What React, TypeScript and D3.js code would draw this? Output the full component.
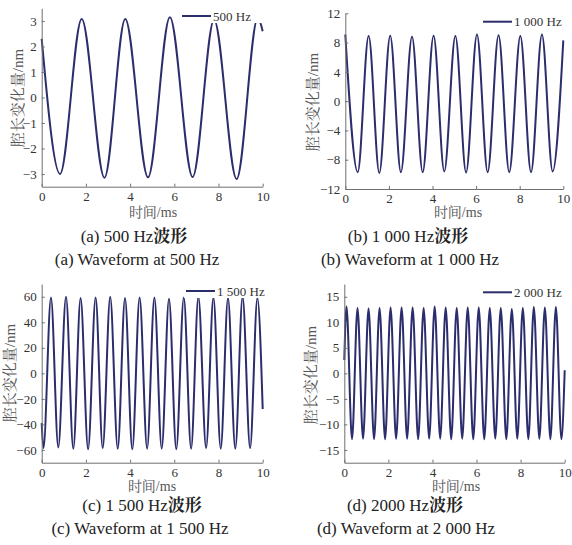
import React from "react";
import * as d3 from "d3";

// shared time axis (ms)
const timeTicks = [0, 2, 4, 6, 8, 10];

const t500 = [0, 0.83, 1.81, 2.84, 3.78, 4.81, 5.8, 6.83, 7.8, 8.82, 9.78, 10];
const v500 = [2.3, -3.0, 3.08, -3.15, 3.08, -3.13, 3.15, -3.12, 3.05, -3.2, 3.13, 2.6];
const yTicks500 = [-3, -2, -1, 0, 1, 2, 3];

const t1000 = [0, 0.57, 1.07, 1.56, 2.06, 2.55, 3.06, 3.55, 4.05, 4.54, 5.05, 5.54, 6.04, 6.53, 7.03, 7.52, 8.03, 8.52, 9.02, 9.51, 10];
const v1000 = [9.1, -9.7, 8.9, -9.8, 8.95, -9.7, 8.8, -9.7, 8.95, -9.6, 8.9, -9.75, 9.1, -9.7, 9.0, -9.7, 8.9, -9.7, 9.1, -9.6, 8.3];
const yTicks1000 = [-12, -8, -4, 0, 4, 8, 12];

const t1500 = [0, 0.08, 0.42, 0.75, 1.1, 1.43, 1.76, 2.1, 2.44, 2.76, 3.1, 3.44, 3.77, 4.1, 4.43, 4.77, 5.1, 5.43, 5.76, 6.09, 6.43, 6.76, 7.09, 7.44, 7.77, 8.1, 8.43, 8.76, 9.09, 9.43, 9.76, 10];
const v1500 = [-39, -58.5, 59.5, -58, 60, -59, 59, -59.5, 59.5, -58.5, 60, -59, 59, -59.5, 59.5, -59, 59.5, -59, 58.5, -59.5, 59.5, -59, 60, -58.5, 59.5, -59, 59, -59, 60, -58.5, 59, -28];
const yTicks1500 = [-60, -40, -20, 0, 20, 40, 60];

const t2000 = [0, 0.1, 0.35, 0.6, 0.85, 1.1, 1.35, 1.6, 1.85, 2.1, 2.35, 2.6, 2.85, 3.1, 3.35, 3.6, 3.85, 4.1, 4.35, 4.6, 4.85, 5.1, 5.35, 5.6, 5.85, 6.1, 6.35, 6.6, 6.85, 7.1, 7.35, 7.6, 7.85, 8.1, 8.35, 8.6, 8.85, 9.1, 9.35, 9.6, 9.85, 10];
const v2000 = [2.6, 13.1, -12.9, 12.8, -12.8, 12.7, -12.9, 12.8, -12.9, 12.9, -12.8, 12.9, -12.8, 12.9, -12.9, 12.8, -12.8, 13.1, -12.8, 12.9, -12.9, 12.8, -12.8, 12.9, -12.9, 12.9, -12.9, 12.8, -12.8, 12.8, -12.9, 12.6, -12.8, 12.8, -12.9, 13.0, -12.8, 12.9, -12.9, 13.0, -12.9, 0.6];
const yTicks2000 = [-15, -10, -5, 0, 5, 10, 15];

const FONT = "'Liberation Serif', 'Noto Serif CJK SC', serif";
const WAVE = "#2c2d6c";
const AXIS = "#6f6f6f";

const panels = [
  { t: t500, v: v500, yDom: [-3.5, 3.5], yTicks: yTicks500, legend: "500 Hz",
    x0: 41.7, x1: 262.7, top: 8.3, bot: 186.7, lx: 182, ly: 16, ylx: 18, yly: 98, xlx: 153, xly: 217,
    cx1: 134, cx2: 137, cy: 242, cn: "(a) 500 Hz", en: "(a) Waveform at 500 Hz" },
  { t: t1000, v: v1000, yDom: [-12, 12], yTicks: yTicks1000, legend: "1 000 Hz",
    x0: 345.3, x1: 563.3, top: 13.3, bot: 189, lx: 483, ly: 21.7, ylx: 313, yly: 102, xlx: 458, xly: 217,
    cx1: 408, cx2: 410, cy: 242, cn: "(b) 1 000 Hz", en: "(b) Waveform at 1 000 Hz" },
  { t: t1500, v: v1500, yDom: [-70, 70], yTicks: yTicks1500, legend: "1 500 Hz",
    x0: 41.7, x1: 262.7, top: 284, bot: 462.7, lx: 186, ly: 291, ylx: 10, yly: 373, xlx: 152, xly: 491,
    cx1: 142, cx2: 140, cy: 511, cn: "(c) 1 500 Hz", en: "(c) Waveform at 1 500 Hz" },
  { t: t2000, v: v2000, yDom: [-17.5, 17.5], yTicks: yTicks2000, legend: "2 000 Hz",
    x0: 344.3, x1: 564.7, top: 284, bot: 462.7, lx: 483, ly: 292.3, ylx: 311, yly: 375, xlx: 456, xly: 491,
    cx1: 405, cx2: 406, cy: 511, cn: "(d) 2000 Hz", en: "(d) Waveform at 2 000 Hz" },
];

type P = (typeof panels)[number];

const Panel = ({ p }: { p: P }) => {
  const xRef = React.useRef<SVGGElement>(null);
  const yRef = React.useRef<SVGGElement>(null);
  const x = d3.scaleLinear().domain([0, 10]).range([p.x0, p.x1]);
  const y = d3.scaleLinear().domain(p.yDom).range([p.bot, p.top]);

  React.useEffect(() => {
    const xa = d3.select(xRef.current)
      .call(d3.axisBottom(x).tickValues(timeTicks).tickFormat(d3.format("d")).tickSizeInner(-3).tickSizeOuter(0).tickPadding(5));
    const ya = d3.select(yRef.current)
      .call(d3.axisLeft(y).tickValues(p.yTicks).tickFormat(d3.format("d")).tickSizeInner(-3).tickSizeOuter(0).tickPadding(5));
    [xa, ya].forEach(a => {
      a.attr("font-family", FONT).attr("font-size", 13);
      a.select(".domain").attr("stroke", AXIS);
      a.selectAll(".tick line").attr("stroke", AXIS);
      a.selectAll(".tick text").attr("fill", "#333");
    });
  }, []);

  const line = d3
    .line<[number, number]>()
    .x(d => x(d[0]))
    .y(d => y(d[1]))
    .curve(d3.curveMonotoneX);
  const pts = d3.zip(p.t, p.v) as [number, number][];

  return (
    <g>
      <path d={line(pts) || ""} fill="none" stroke={WAVE} strokeWidth={2} strokeLinejoin="round" />
      <g ref={xRef} transform={`translate(0,${p.bot})`} />
      <g ref={yRef} transform={`translate(${p.x0},0)`} />

      {/* legend, white box hides the curve behind it */}
      <rect x={p.lx - 2} y={p.ly - 8} width={p.x1 + 4 - p.lx} height={15} fill="#fff" />
      <line x1={p.lx} x2={p.lx + 29} y1={p.ly} y2={p.ly} stroke={WAVE} strokeWidth={2} />
      <text x={p.lx + 31} y={p.ly + 4.5} fill="#333" style={{ fontFamily: FONT, fontSize: 13 }}>
        {p.legend}
      </text>

      <text x={p.xlx} y={p.xly} textAnchor="middle" fill="#555" style={{ fontFamily: FONT, fontSize: 14 }}>
        时间/ms
      </text>
      <text
        transform={`translate(${p.ylx},${p.yly}) rotate(-90)`}
        dy="0.35em"
        textAnchor="middle"
        fill="#555"
        style={{ fontFamily: FONT, fontSize: 15 }}
      >
        腔长变化量/nm
      </text>

      <text x={p.cx1} y={p.cy} textAnchor="middle" fill="#222" style={{ fontFamily: FONT, fontSize: 17 }}>
        {p.cn}
        <tspan style={{ fontWeight: 700 }}>波形</tspan>
      </text>
      <text x={p.cx2} y={p.cy + 23} textAnchor="middle" fill="#222" style={{ fontFamily: FONT, fontSize: 17 }}>
        {p.en}
      </text>
    </g>
  );
};

const App = () => (
  <svg width={572} height={545} style={{ position: "absolute", left: 0, top: 0, background: "#fff" }}>
    {panels.map((p, i) => (
      <Panel key={i} p={p} />
    ))}
  </svg>
);

export default App;
